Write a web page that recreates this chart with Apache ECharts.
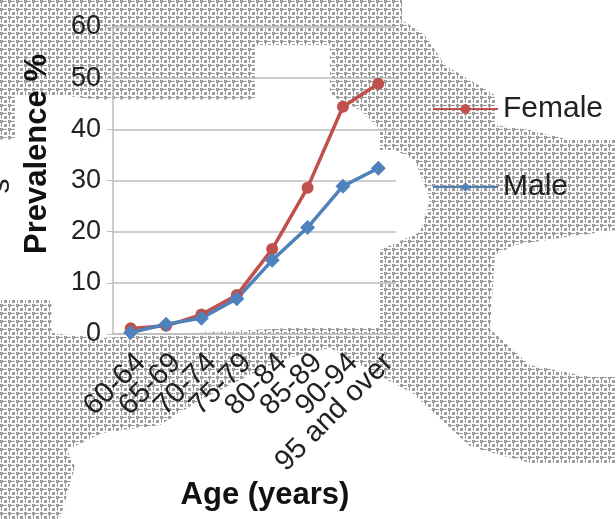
<!DOCTYPE html>
<html>
<head>
<meta charset="utf-8">
<script src="https://cdn.jsdelivr.net/npm/echarts@6/dist/echarts.min.js"></script>
<style>html,body{margin:0;padding:0;background:#fff}#c{width:616px;height:519px}</style>
</head>
<body>
<div id="c"></div>
<script>
var categories = ['60-64','65-69','70-74','75-79','80-84','85-89','90-94','95 and over'];
var female = [1.1, 1.6, 3.8, 7.6, 16.6, 28.6, 44.4, 48.9];
var male = [0.3, 1.9, 3.1, 6.9, 14.4, 20.8, 28.9, 32.4];
var yTicks = [0, 10, 20, 30, 40, 50, 60];

// halftone texture tile (decoration only)
var tile = document.createElement('canvas');
tile.width = 8; tile.height = 8;
var tc = tile.getContext('2d');
tc.fillStyle = '#9e9e9e';
[[0,0,3,3],[4,4,3,3],[4,1,3,1],[1,4,1,3],[3,1,1,1],[1,3,1,1]].forEach(function (r) { tc.fillRect(r[0], r[1], r[2], r[3]); });
var pat = {image: tile, repeat: 'repeat'};

var blobs = [
  [[0,0],[390,0],[390,140],[360,110],[330,95],[330,45],[255,45],[255,100],[100,100],[60,95],[15,95],[15,140],[0,140]],
  [[380,0],[402,0],[402,20],[425,35],[445,65],[470,80],[495,95],[495,125],[530,130],[570,140],[616,140],[616,230],[560,238],[515,245],[495,255],[490,330],[380,330],[380,250],[420,232],[430,200],[415,160],[395,150],[380,150]],
  [[0,300],[52,300],[52,333],[100,338],[290,328],[380,328],[491,330],[530,365],[590,377],[616,377],[616,463],[530,463],[471,447],[412,393],[393,383],[330,348],[280,360],[200,400],[160,425],[102,433],[67,450],[75,467],[60,519],[0,519]]
];

var FONT = '"Liberation Sans", Arial, sans-serif';
var chart = echarts.init(document.getElementById('c'), null, {renderer: 'canvas'});
var graphics = blobs.map(function (b) {
  return {type: 'polygon', z: -10, silent: true, shape: {points: b}, style: {fill: pat}};
});
graphics.push({type: 'text', z: 10, x: 37, y: 154, rotation: Math.PI / 2,
  style: {text: 'Prevalence %', font: 'bold 31px ' + FONT, fill: '#111', align: 'center', verticalAlign: 'middle'}});
graphics.push({type: 'text', z: 10, x: 265, y: 495,
  style: {text: 'Age (years)', font: 'bold 31px ' + FONT, fill: '#111', align: 'center', verticalAlign: 'middle'}});
graphics.push({type: 'text', z: 10, x: 1, y: 186, rotation: Math.PI / 2,
  style: {text: 's', font: '30px ' + FONT, fill: '#222', align: 'center', verticalAlign: 'middle'}});

chart.setOption({
  animation: false,
  backgroundColor: '#fff',
  graphic: graphics,
  grid: {left: 113, right: 220, top: 27, bottom: 185, containLabel: false},
  legend: {
    orient: 'vertical', left: 432, top: 94, padding: 0, itemWidth: 65, itemHeight: 12, itemGap: 48,
    textStyle: {fontSize: 30, color: '#222', fontFamily: FONT},
    data: ['Female', 'Male']
  },
  xAxis: {
    type: 'category', data: categories, boundaryGap: true,
    axisLine: {lineStyle: {color: '#bdbdbd', width: 1.5}},
    axisTick: {show: false},
    axisLabel: {rotate: 45, fontSize: 29, color: '#222', margin: 14, interval: 0, verticalAlign: 'top', fontFamily: FONT}
  },
  yAxis: {
    type: 'value', min: yTicks[0], max: yTicks[yTicks.length - 1], interval: 10,
    axisLine: {show: true, lineStyle: {color: '#bdbdbd', width: 1.5}},
    axisTick: {show: true, length: 6, lineStyle: {color: '#bdbdbd'}},
    axisLabel: {fontSize: 27, color: '#222', margin: 12, fontFamily: FONT},
    splitLine: {lineStyle: {color: '#bdbdbd', width: 1.5}}
  },
  series: [
    {name: 'Female', type: 'line', data: female, symbol: 'circle', symbolSize: 12,
      lineStyle: {color: '#C0504D', width: 3.5}, itemStyle: {color: '#C0504D'}},
    {name: 'Male', type: 'line', data: male, symbol: 'diamond', symbolSize: 15,
      lineStyle: {color: '#4F81BD', width: 3.5}, itemStyle: {color: '#4F81BD'}}
  ]
});
</script>
</body>
</html>
